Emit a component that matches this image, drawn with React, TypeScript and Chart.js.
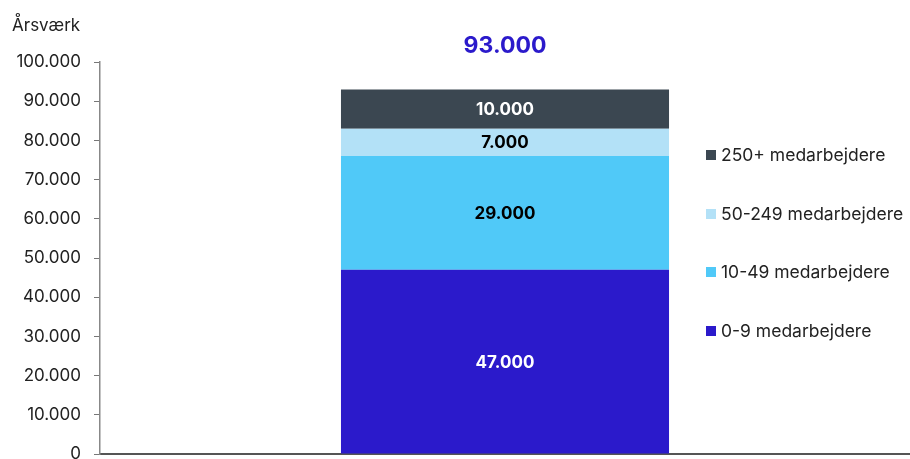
import React, { useEffect, useRef } from "react";
import { Chart, registerables } from "chart.js";

Chart.register(...registerables);

const categories = [""];
const seriesLabels = ["0-9 medarbejdere", "10-49 medarbejdere", "50-249 medarbejdere", "250+ medarbejdere"];
const seriesValues = [47000, 29000, 7000, 10000];
const seriesColors = ["#2b1acb", "#50c9f8", "#b3e1f7", "#3b4751"];
const labelColors = ["#ffffff", "#000000", "#000000", "#ffffff"];
const totalLabel = "93.000";
const axisTitle = "Årsværk";
const yTicks = [0, 10000, 20000, 30000, 40000, 50000, 60000, 70000, 80000, 90000, 100000];

const FONT = "Inter, 'Liberation Sans', Arial, sans-serif";
const fmt = (v: number) => v.toLocaleString("da-DK");

const overlayPlugin = {
  id: "overlay",
  afterDatasetsDraw(chart: any) {
    const ctx = chart.ctx;
    ctx.save();
    ctx.textAlign = "center";
    ctx.textBaseline = "middle";
    ctx.font = `bold 17px ${FONT}`;
    chart.data.datasets.forEach((ds: any, i: number) => {
      const meta = chart.getDatasetMeta(i);
      meta.data.forEach((bar: any) => {
        const y = (bar.y + bar.base) / 2;
        ctx.fillStyle = labelColors[i];
        ctx.fillText(fmt(ds.data[0]), bar.x, y + 1);
      });
    });
    // total
    const last = chart.getDatasetMeta(seriesValues.length - 1).data[0];
    ctx.fillStyle = "#2b1acb";
    ctx.font = `bold 23px ${FONT}`;
    ctx.fillText(totalLabel, last.x, 46);
    // axis title
    ctx.textAlign = "left";
    ctx.fillStyle = "#222222";
    ctx.font = `17px ${FONT}`;
    ctx.fillText(axisTitle, 12, 26);
    // legend
    ctx.font = `17.5px ${FONT}`;
    const legendX = 706;
    const ys = [155, 214, 272, 331];
    for (let k = 0; k < seriesLabels.length; k++) {
      const idx = seriesLabels.length - 1 - k;
      const y = ys[k];
      ctx.fillStyle = seriesColors[idx];
      ctx.fillRect(legendX, y - 5, 10, 10);
      ctx.fillStyle = "#222222";
      ctx.fillText(seriesLabels[idx], legendX + 15, y + 1);
    }
    ctx.restore();
  },
};

export default function App() {
  const ref = useRef<HTMLCanvasElement>(null);
  useEffect(() => {
    document.body.style.margin = "0";
    const chart = new Chart(ref.current!, {
      type: "bar",
      data: {
        labels: categories,
        datasets: seriesLabels.map((label, i) => ({
          label,
          data: [seriesValues[i]],
          backgroundColor: seriesColors[i],
          categoryPercentage: 1,
          barPercentage: 0.405,
        })),
      },
      options: {
        animation: false,
        responsive: false,
        layout: { padding: { top: 62, bottom: 5, left: 12, right: 0 } },
        plugins: { legend: { display: false }, tooltip: { enabled: false } },
        scales: {
          x: {
            stacked: true,
            ticks: { display: false },
            grid: { display: false },
            border: { display: true, color: "#555555", width: 2 },
            afterFit: (scale: any) => {
              scale.height = 0;
            },
          },
          y: {
            stacked: true,
            min: 0,
            max: 100000,
            afterBuildTicks: (scale: any) => {
              scale.ticks = yTicks.map((v) => ({ value: v }));
            },
            afterFit: (scale: any) => {
              scale.paddingTop = 0;
              scale.paddingBottom = 0;
              scale.width = 88;
            },
            ticks: {
              color: "#222222",
              font: { family: FONT, size: 17 },
              padding: 13,
              callback: (v: any) => fmt(Number(v)),
            },
            grid: { drawOnChartArea: false, drawTicks: true, tickLength: 6, color: "#777777" },
            border: { display: true, color: "#888888", width: 1.5 },
          },
        },
      },
      plugins: [overlayPlugin],
    });
    return () => chart.destroy();
  }, []);
  return (
    <div style={{ position: "fixed", left: 0, top: 0, width: 910, height: 459 }}>
      <canvas ref={ref} width={910} height={459} />
    </div>
  );
}
